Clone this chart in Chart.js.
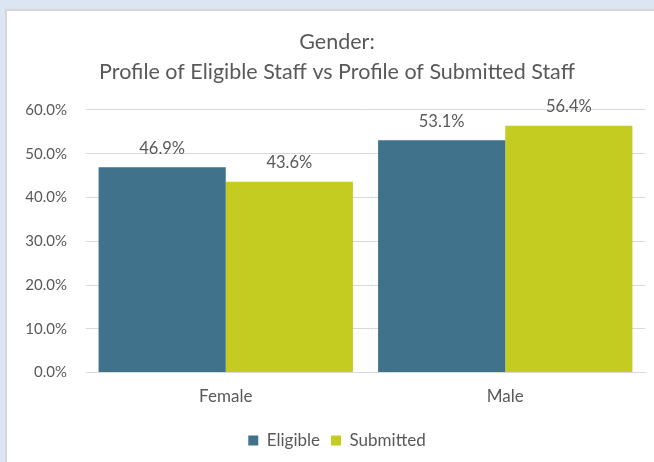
<!DOCTYPE html>
<html>
<head>
<meta charset="utf-8">
<script src="https://cdn.jsdelivr.net/npm/chart.js@4"></script>
<style>
    html, body { margin: 0; padding: 0; }
    body { width: 654px; height: 462px; background: #dce6f2; position: relative; overflow: hidden; }
    #frame { position: absolute; left: 5px; top: 9px; width: 670px; height: 453px; background: #ffffff;
             border-left: 2px solid #d6d6d6; border-top: 2px solid #d6d6d6; }
    #wrap { position: absolute; left: 0; top: 0; width: 660px; height: 448px; }
</style>
</head>
<body>
<div id="frame"><div id="wrap"><canvas id="chart"></canvas></div></div>
<script>
// data
let categories = ['Female', 'Male'];
let eligible = [46.9, 53.1];
let submitted = [43.6, 56.4];
let yTicks = [0, 10, 20, 30, 40, 50, 60];
let titleLines = ['Gender:', 'Profile of Eligible Staff vs Profile of Submitted Staff'];

let textColor = '#595959';
let fontFamily = 'Lato, "Open Sans", sans-serif';

// draws value labels above the bars
let barLabels = {
    id: 'barLabels',
    afterDatasetsDraw: function (chart) {
        let ctx = chart.ctx;
        ctx.save();
        ctx.font = '16.5px ' + fontFamily;
        ctx.fillStyle = textColor;
        ctx.textAlign = 'center';
        ctx.textBaseline = 'middle';
        chart.data.datasets.forEach((ds, i) => {
            chart.getDatasetMeta(i).data.forEach((el, j) => {
                ctx.fillText(ds.data[j].toFixed(1) + '%', el.x, el.y - 19);
            });
        });
        ctx.restore();
    }
};

new Chart(document.getElementById('chart'), {
    type: 'bar',
    data: {
        labels: categories,
        datasets: [
            { label: 'Eligible', data: eligible, backgroundColor: '#41728b' },
            { label: 'Submitted', data: submitted, backgroundColor: '#c4cc21' }
        ]
    },
    options: {
        responsive: true,
        maintainAspectRatio: false,
        animation: false,
        layout: { padding: { left: 0, right: 0, top: 0, bottom: 0 } },
        datasets: { bar: { categoryPercentage: 0.91, barPercentage: 1.0 } },
        scales: {
            x: {
                grid: { display: false, drawTicks: false },
                border: { display: true, color: '#d9d9d9', width: 1 },
                ticks: { color: textColor, padding: 14, font: { family: fontFamily, size: 17 } }
            },
            y: {
                min: 0,
                max: 60,
                afterBuildTicks: function (axis) {
                    axis.ticks = yTicks.map(v => ({ value: v }));
                },
                afterFit: function (axis) { axis.width = 79; },
                grid: { color: '#d9d9d9', drawTicks: false },
                border: { display: false },
                ticks: {
                    color: textColor,
                    padding: 19,
                    font: { family: fontFamily, size: 15 },
                    callback: v => v.toFixed(1) + '%'
                }
            },
            // empty right-hand space, the source chart runs past the picture edge
            yRight: {
                position: 'right',
                afterFit: function (axis) { axis.width = 22; },
                grid: { drawOnChartArea: false, drawTicks: false },
                border: { display: false },
                ticks: { display: false }
            }
        },
        plugins: {
            title: {
                display: true,
                text: titleLines,
                color: textColor,
                font: { family: fontFamily, size: 21.5, weight: 'normal', lineHeight: 1.395 },
                padding: { top: 16, bottom: 23 }
            },
            legend: {
                position: 'bottom',
                labels: {
                    color: textColor,
                    boxWidth: 10,
                    boxHeight: 10,
                    padding: 11,
                    font: { family: fontFamily, size: 17 }
                }
            },
            tooltip: { enabled: false }
        }
    },
    plugins: [barLabels]
});
</script>
</body>
</html>
